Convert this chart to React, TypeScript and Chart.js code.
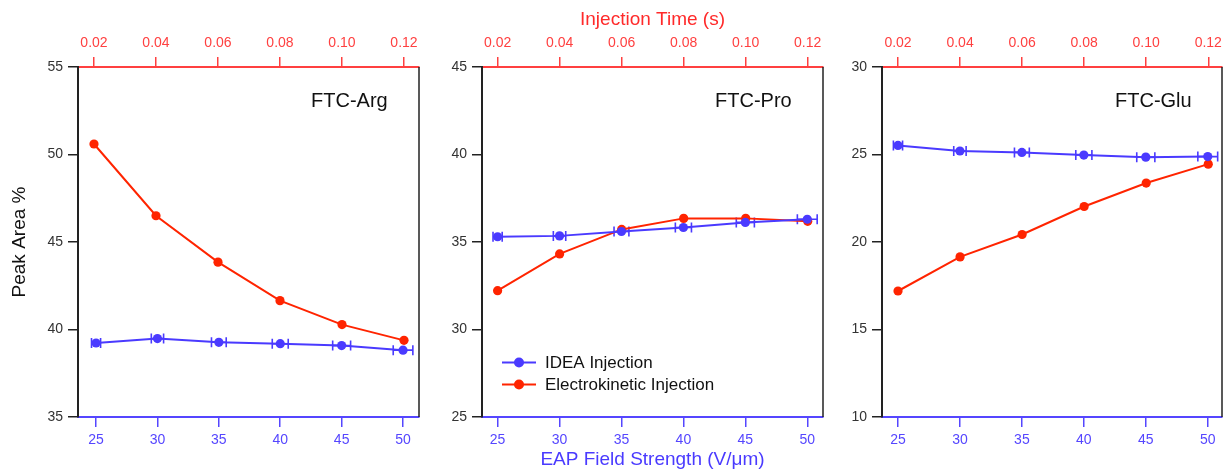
import React, { useEffect, useRef } from 'react';
import { Chart, registerables } from 'chart.js';

Chart.register(...registerables);

// ---------- data ----------
const FIELD_STRENGTH = [25, 30, 35, 40, 45, 50];
const INJECTION_TIME = [0.02, 0.04, 0.06, 0.08, 0.1, 0.12];
const FIELD_TICKS = [25, 30, 35, 40, 45, 50];
const TIME_TICKS = [0.02, 0.04, 0.06, 0.08, 0.1, 0.12];

const SERIES_LABELS = ['IDEA Injection', 'Electrokinetic Injection'];
const PANEL_TITLES = ['FTC-Arg', 'FTC-Pro', 'FTC-Glu'];

const ARG_IDEA = [39.23, 39.48, 39.27, 39.19, 39.08, 38.82];
const ARG_IDEA_ERR = [0.37, 0.5, 0.6, 0.65, 0.73, 0.8];
const ARG_EK = [50.6, 46.5, 43.85, 41.65, 40.28, 39.38];
const ARG_Y_RANGE = [35, 55];

const PRO_IDEA = [35.3, 35.35, 35.6, 35.83, 36.12, 36.3];
const PRO_IDEA_ERR = [0.37, 0.5, 0.6, 0.65, 0.73, 0.8];
const PRO_EK = [32.22, 34.32, 35.72, 36.35, 36.35, 36.18];
const PRO_Y_RANGE = [25, 45];

const GLU_IDEA = [25.52, 25.2, 25.12, 24.97, 24.85, 24.88];
const GLU_IDEA_ERR = [0.37, 0.5, 0.6, 0.65, 0.73, 0.8];
const GLU_EK = [17.2, 19.15, 20.43, 22.03, 23.37, 24.45];
const GLU_Y_RANGE = [10, 30];

const Y_STEP = 5;

// ---------- styles ----------
const FONT = "'Liberation Sans', Arial, Helvetica, sans-serif";
const BLUE = '#4A3AFF';
const RED = '#FF2400';
const AXIS_BLUE = '#5546FF';
const AXIS_RED = '#FF4040';
const DARK = '#222222';
const H = 471;

const PANELS = [
  {
    title: PANEL_TITLES[0], idea: ARG_IDEA, ideaErr: ARG_IDEA_ERR, ek: ARG_EK, yRange: ARG_Y_RANGE,
    left: 0, width: 440, yAxisW: 78, padRight: 21,
    fieldRange: [23.53, 51.3], timeRange: [0.01484, 0.12484],
    yTitle: 'Peak Area %', topTitle: '', bottomTitle: '', legend: false,
  },
  {
    title: PANEL_TITLES[1], idea: PRO_IDEA, ideaErr: PRO_IDEA_ERR, ek: PRO_EK, yRange: PRO_Y_RANGE,
    left: 440, width: 400, yAxisW: 42, padRight: 17,
    fieldRange: [23.74, 51.27], timeRange: [0.01497, 0.12493],
    yTitle: '', topTitle: 'Injection Time (s)', bottomTitle: 'EAP Field Strength (V/μm)', legend: true,
  },
  {
    title: PANEL_TITLES[2], idea: GLU_IDEA, ideaErr: GLU_IDEA_ERR, ek: GLU_EK, yRange: GLU_Y_RANGE,
    left: 840, width: 402, yAxisW: 42, padRight: 20,
    fieldRange: [23.71, 51.15], timeRange: [0.01484, 0.12443],
    yTitle: '', topTitle: '', bottomTitle: '', legend: false,
  },
];

function Panel({ cfg }: { cfg: any }) {
  const ref = useRef<HTMLCanvasElement>(null);

  useEffect(() => {
    if (!ref.current) return;

    const errorBars = {
      id: 'errorBars',
      beforeDatasetsDraw(chart: any) {
        const ds = chart.data.datasets[0];
        const xs = chart.scales.x;
        const ys = chart.scales.y;
        const ctx = chart.ctx;
        ctx.save();
        ctx.strokeStyle = BLUE;
        ctx.lineWidth = 1.6;
        ds.data.forEach((p: any, i: number) => {
          const e = ds.errorX[i];
          const x1 = xs.getPixelForValue(p.x - e);
          const x2 = xs.getPixelForValue(p.x + e);
          const y = ys.getPixelForValue(p.y);
          ctx.beginPath();
          ctx.moveTo(x1, y);
          ctx.lineTo(x2, y);
          ctx.moveTo(x1, y - 5);
          ctx.lineTo(x1, y + 5);
          ctx.moveTo(x2, y - 5);
          ctx.lineTo(x2, y + 5);
          ctx.stroke();
        });
        ctx.restore();
      },
    };

    const decor = {
      id: 'decor',
      afterDraw(chart: any) {
        const { ctx, chartArea } = chart;
        ctx.save();
        // right frame line
        ctx.strokeStyle = DARK;
        ctx.lineWidth = 1.5;
        ctx.beginPath();
        ctx.moveTo(chartArea.right, chartArea.top);
        ctx.lineTo(chartArea.right, chartArea.bottom);
        ctx.stroke();
        // panel title
        ctx.fillStyle = '#111';
        ctx.font = `20px ${FONT}`;
        ctx.textBaseline = 'alphabetic';
        ctx.textAlign = 'left';
        ctx.fillText(cfg.title, chartArea.left + 233, chartArea.top + 40);
        // legend
        if (cfg.legend) {
          chart.data.datasets.forEach((ds: any, i: number) => {
            const y = chartArea.bottom - 54.5 + i * 22;
            const x0 = chartArea.left + 20;
            ctx.strokeStyle = ds.borderColor;
            ctx.lineWidth = 2;
            ctx.beginPath();
            ctx.moveTo(x0, y);
            ctx.lineTo(x0 + 34, y);
            ctx.stroke();
            ctx.fillStyle = ds.borderColor;
            ctx.beginPath();
            ctx.arc(x0 + 17, y, 5, 0, Math.PI * 2);
            ctx.fill();
            ctx.fillStyle = '#111';
            ctx.font = `17px ${FONT}`;
            ctx.textBaseline = 'middle';
            ctx.fillText(ds.label, x0 + 43, y + 1);
          });
        }
        ctx.restore();
      },
    };

    const chart = new Chart(ref.current, {
      type: 'line',
      data: {
        datasets: [
          {
            label: SERIES_LABELS[0],
            data: FIELD_STRENGTH.map((x, i) => ({ x, y: cfg.idea[i] })),
            errorX: cfg.ideaErr,
            xAxisID: 'x',
            yAxisID: 'y',
            borderColor: BLUE,
            backgroundColor: BLUE,
            pointBackgroundColor: BLUE,
            pointBorderWidth: 0,
            pointRadius: 4.6,
            borderWidth: 2,
            tension: 0,
          } as any,
          {
            label: SERIES_LABELS[1],
            data: INJECTION_TIME.map((x, i) => ({ x, y: cfg.ek[i] })),
            xAxisID: 'x2',
            yAxisID: 'y',
            borderColor: RED,
            backgroundColor: RED,
            pointBackgroundColor: RED,
            pointBorderWidth: 0,
            pointRadius: 4.6,
            borderWidth: 2,
            tension: 0,
          },
        ],
      },
      options: {
        responsive: false,
        animation: false,
        layout: { padding: { left: 0, right: cfg.padRight, top: 0, bottom: 0 } },
        plugins: { legend: { display: false }, tooltip: { enabled: false } },
        scales: {
          x: {
            type: 'linear',
            position: 'bottom',
            min: cfg.fieldRange[0],
            max: cfg.fieldRange[1],
            afterBuildTicks: (s: any) => { s.ticks = FIELD_TICKS.map((v) => ({ value: v })); },
            afterFit: (s: any) => { s.height = 54; },
            ticks: {
              color: AXIS_BLUE,
              font: { family: FONT, size: 14 },
              padding: 5,
              maxRotation: 0,
              autoSkip: false,
              callback: (v: any) => String(v),
            },
            grid: { drawOnChartArea: false, drawTicks: true, tickLength: 10, color: AXIS_BLUE, lineWidth: 1.5 },
            border: { display: true, color: AXIS_BLUE, width: 2 },
            title: {
              display: !!cfg.bottomTitle,
              text: cfg.bottomTitle,
              color: BLUE,
              font: { family: FONT, size: 19 },
              padding: { top: 0, bottom: 0 },
            },
          },
          x2: {
            type: 'linear',
            position: 'top',
            min: cfg.timeRange[0],
            max: cfg.timeRange[1],
            afterBuildTicks: (s: any) => { s.ticks = TIME_TICKS.map((v) => ({ value: v })); },
            afterFit: (s: any) => { s.height = 67; },
            ticks: {
              color: AXIS_RED,
              font: { family: FONT, size: 14 },
              padding: 5,
              maxRotation: 0,
              autoSkip: false,
              callback: (v: any) => Number(v).toFixed(2),
            },
            grid: { drawOnChartArea: false, drawTicks: true, tickLength: 10, color: AXIS_RED, lineWidth: 1.5 },
            border: { display: true, color: AXIS_RED, width: 2 },
            title: {
              display: !!cfg.topTitle,
              text: cfg.topTitle,
              color: '#FF2A2A',
              font: { family: FONT, size: 19 },
              padding: { top: 8, bottom: 0 },
            },
          },
          y: {
            type: 'linear',
            position: 'left',
            min: cfg.yRange[0],
            max: cfg.yRange[1],
            afterFit: (s: any) => { s.width = cfg.yAxisW; },
            ticks: {
              stepSize: Y_STEP,
              color: '#333',
              font: { family: FONT, size: 14 },
              padding: 5,
            },
            grid: { drawOnChartArea: false, drawTicks: true, tickLength: 10, color: DARK, lineWidth: 1.5 },
            border: { display: true, color: DARK, width: 2 },
            title: {
              display: !!cfg.yTitle,
              text: cfg.yTitle,
              color: '#111',
              font: { family: FONT, size: 19 },
              padding: { top: 8, bottom: 0 },
            },
          },
        },
      } as any,
      plugins: [errorBars, decor],
    });

    return () => chart.destroy();
  }, [cfg]);

  return (
    <div style={{ position: 'absolute', left: cfg.left, top: 0, width: cfg.width, height: H }}>
      <canvas ref={ref} width={cfg.width} height={H} style={{ display: 'block' }} />
    </div>
  );
}

export default function App() {
  return (
    <div style={{ position: 'absolute', left: 0, top: 0, width: 1223, height: H, background: '#fff', overflow: 'hidden' }}>
      {PANELS.map((p, i) => (
        <Panel key={i} cfg={p} />
      ))}
    </div>
  );
}
